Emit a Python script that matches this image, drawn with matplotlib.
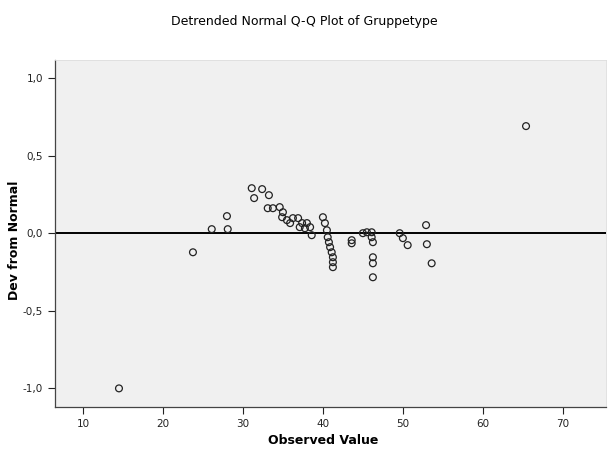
import matplotlib
matplotlib.use("Agg")
import matplotlib.pyplot as plt

observed = [14.5, 23.75, 26.1, 28.0, 28.1, 31.1, 32.4, 31.4, 33.25, 33.1, 33.75, 34.6,
            35.0, 34.9, 35.5, 35.9, 36.25, 36.9, 37.4, 37.1, 37.75, 38.0, 38.4, 38.6,
            40.0, 40.25, 40.5, 40.6, 40.75, 40.9, 41.1, 41.25, 41.25, 41.25,
            43.6, 43.6, 45.0, 45.5, 46.1, 46.1, 46.25, 46.25, 46.25, 46.25,
            49.6, 50.0, 50.6, 52.9, 53.0, 53.6, 65.4]
dev = [-1.00, -0.123, 0.026, 0.110, 0.026, 0.290, 0.284, 0.226, 0.245, 0.161, 0.161, 0.168,
       0.135, 0.103, 0.084, 0.065, 0.097, 0.097, 0.065, 0.039, 0.032, 0.065, 0.039, -0.013,
       0.103, 0.065, 0.019, -0.026, -0.058, -0.090, -0.123, -0.155, -0.187, -0.219,
       -0.045, -0.065, 0.0, 0.006, 0.006, -0.026, -0.058, -0.155, -0.194, -0.284,
       0.0, -0.032, -0.077, 0.052, -0.071, -0.194, 0.69]

xticks = [10, 20, 30, 40, 50, 60, 70]
yticks = [1.0, 0.5, 0.0, -0.5, -1.0]
ytick_labels = ["1,0", "0,5", "0,0", "-0,5", "-1,0"]

fig = plt.figure(figsize=(6.08, 4.51), dpi=100)
ax = fig.add_axes([55/608, 1-407/451, (606-55)/608, (407-60)/451])
ax.set_facecolor("#f0f0f0")

ax.axhline(0, color="black", linewidth=1.4, zorder=2)
ax.scatter(observed, dev, s=24, facecolors="none", edgecolors="#222222", linewidths=0.9, zorder=3)

ax.set_xlim(6.5, 75.4)
ax.set_ylim(-1.12, 1.116)
ax.set_xticks(xticks)
ax.set_xticklabels([str(t) for t in xticks])
ax.set_yticks(yticks)
ax.set_yticklabels(ytick_labels)
ax.tick_params(direction="out", length=5, width=0.8, labelsize=7.5, colors="#222222")

for s in ["left", "bottom"]:
    ax.spines[s].set_color("#444444")
    ax.spines[s].set_linewidth(0.9)
for s in ["top", "right"]:
    ax.spines[s].set_color("#dddddd")
    ax.spines[s].set_linewidth(0.6)

fig.text(304/608, 1-21/451, "Detrended Normal Q-Q Plot of Gruppetype", ha="center", va="center", fontsize=9)
fig.text(323/608, 1-441/451, "Observed Value", ha="center", va="center", fontsize=9, fontweight="bold")
fig.text(15/608, 1-240/451, "Dev from Normal", ha="center", va="center", rotation=90, fontsize=9, fontweight="bold")

fig.savefig("out.png", dpi=100, facecolor="white")
